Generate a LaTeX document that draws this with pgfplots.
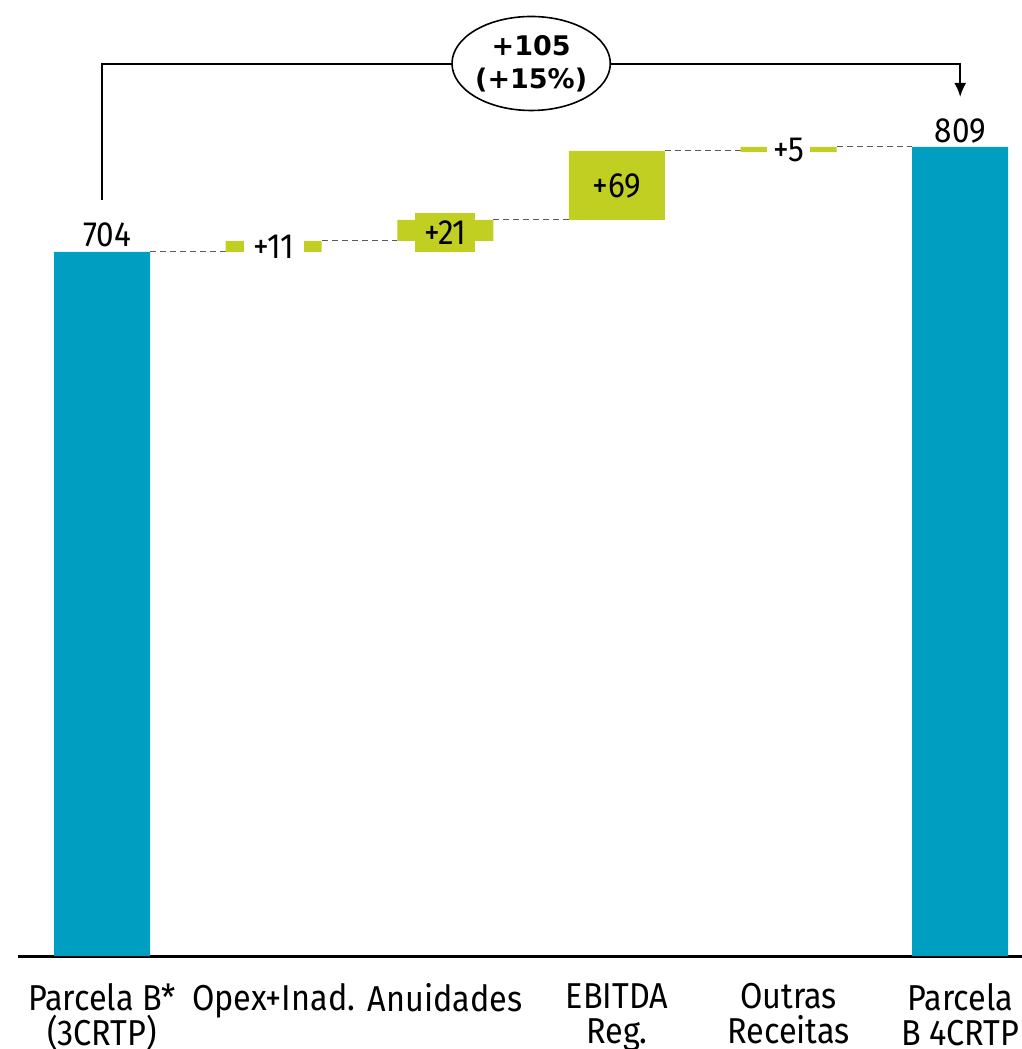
\documentclass[border=0pt]{standalone}
\usepackage{pgfplots}
\pgfplotsset{compat=1.18}
\usepackage{fontspec}
\setmainfont[FakeStretch=0.9]{Fira Sans}
\newfontfamily\boldfont{DejaVu Sans}
\usetikzlibrary{arrows.meta,shapes.geometric}
\definecolor{cblue}{RGB}{0,159,194}
\definecolor{cgreen}{RGB}{193,206,34}
\newcommand{\fl}{\rule{0pt}{12.4pt}}
\begin{document}
\begin{tikzpicture}
\begin{axis}[
  at={(0,0)}, anchor=south west, scale only axis,
  width=502pt, height=478pt,
  xmin=-0.49, xmax=5.36, ymin=0, ymax=956,
  axis x line=bottom, axis y line=none,
  x axis line style={-, line width=1.5pt},
  ybar stacked, bar width=48pt,
  xtick={0,1,2,3,4,5},
  xticklabels={{\fl Parcela B*\\(3CRTP)},{\fl Opex+Inad.},{\fl Anuidades},{\fl EBITDA\\Reg.},{\fl Outras\\Receitas},{\fl Parcela\\B 4CRTP}},
  xticklabel style={align=center, anchor=north, inner sep=0pt, font=\fontsize{18}{17.5}\selectfont, yshift=-13.5pt},
  major tick length=0pt,
  ytick=\empty,
  clip=false,
  /pgf/number format/assume math mode=true,
]
% invisible base
\addplot[draw=none, fill=none] coordinates {(0,0) (1,704) (2,715) (3,736) (4,804) (5,0)};
% totals
\addplot[draw=none, fill=cblue] coordinates {(0,704) (1,0) (2,0) (3,0) (4,0) (5,809)};
% deltas
\addplot[draw=none, fill=cgreen] coordinates {(0,0) (1,11) (2,21) (3,69) (4,5) (5,0)};

% connectors
\draw[densely dashed, gray!70!black, line width=0.5pt] (axis cs:0.28,704) -- (axis cs:0.72,704);
\draw[densely dashed, gray!70!black, line width=0.5pt] (axis cs:1.28,715) -- (axis cs:1.72,715);
\draw[densely dashed, gray!70!black, line width=0.5pt] (axis cs:2.28,736) -- (axis cs:2.72,736);
\draw[densely dashed, gray!70!black, line width=0.5pt] (axis cs:3.28,805) -- (axis cs:3.72,805);
\draw[densely dashed, gray!70!black, line width=0.5pt] (axis cs:4.28,809) -- (axis cs:4.72,809);

% anchor points for labels
\coordinate (L0) at (axis cs:0.03,721);
\coordinate (L5) at (axis cs:5,825);
\coordinate (L1) at (axis cs:1,709);
\coordinate (L2) at (axis cs:2,723.5);
\coordinate (L3) at (axis cs:3,770);
\coordinate (L4) at (axis cs:4,806);
\coordinate (A0) at (axis cs:0,756);
\coordinate (A1) at (axis cs:0,892);
\coordinate (A2) at (axis cs:5,892);
\coordinate (A3) at (axis cs:5,859);
\coordinate (E) at (axis cs:2.5,892.5);
\end{axis}
\begin{scope}[every node/.style={font=\fontsize{17.5}{18}\selectfont}]
\node at (L0) {704};
\node at (L5) {809};
\node[fill=white, inner sep=0pt, minimum width=30pt, minimum height=14pt] at (L1) {+11};
\node[fill=cgreen, inner sep=0pt, minimum width=30pt, minimum height=19.5pt] at (L2) {+21};
\node at (L3) {+69};
\node[fill=white, inner sep=0pt, minimum width=21.5pt, minimum height=12pt] at (L4) {+5};
\end{scope}
% total change annotation
\draw[line width=1pt] (A0) -- (A1) -- (A2);
\draw[line width=1pt, -{Latex[length=7pt,width=6pt]}] ([yshift=0.5pt]A2) -- (A3);
\node[draw, ellipse, line width=0.8pt, fill=white, inner sep=0pt, minimum width=73pt, minimum height=47pt,
  align=center, font=\fontsize{13.5}{16.5}\selectfont\boldfont\bfseries] at (E) {+105\\(+15\%)};
\pgfresetboundingbox
\path (-9pt,-46.5pt) rectangle (502pt,478pt);
\end{tikzpicture}
\end{document}
